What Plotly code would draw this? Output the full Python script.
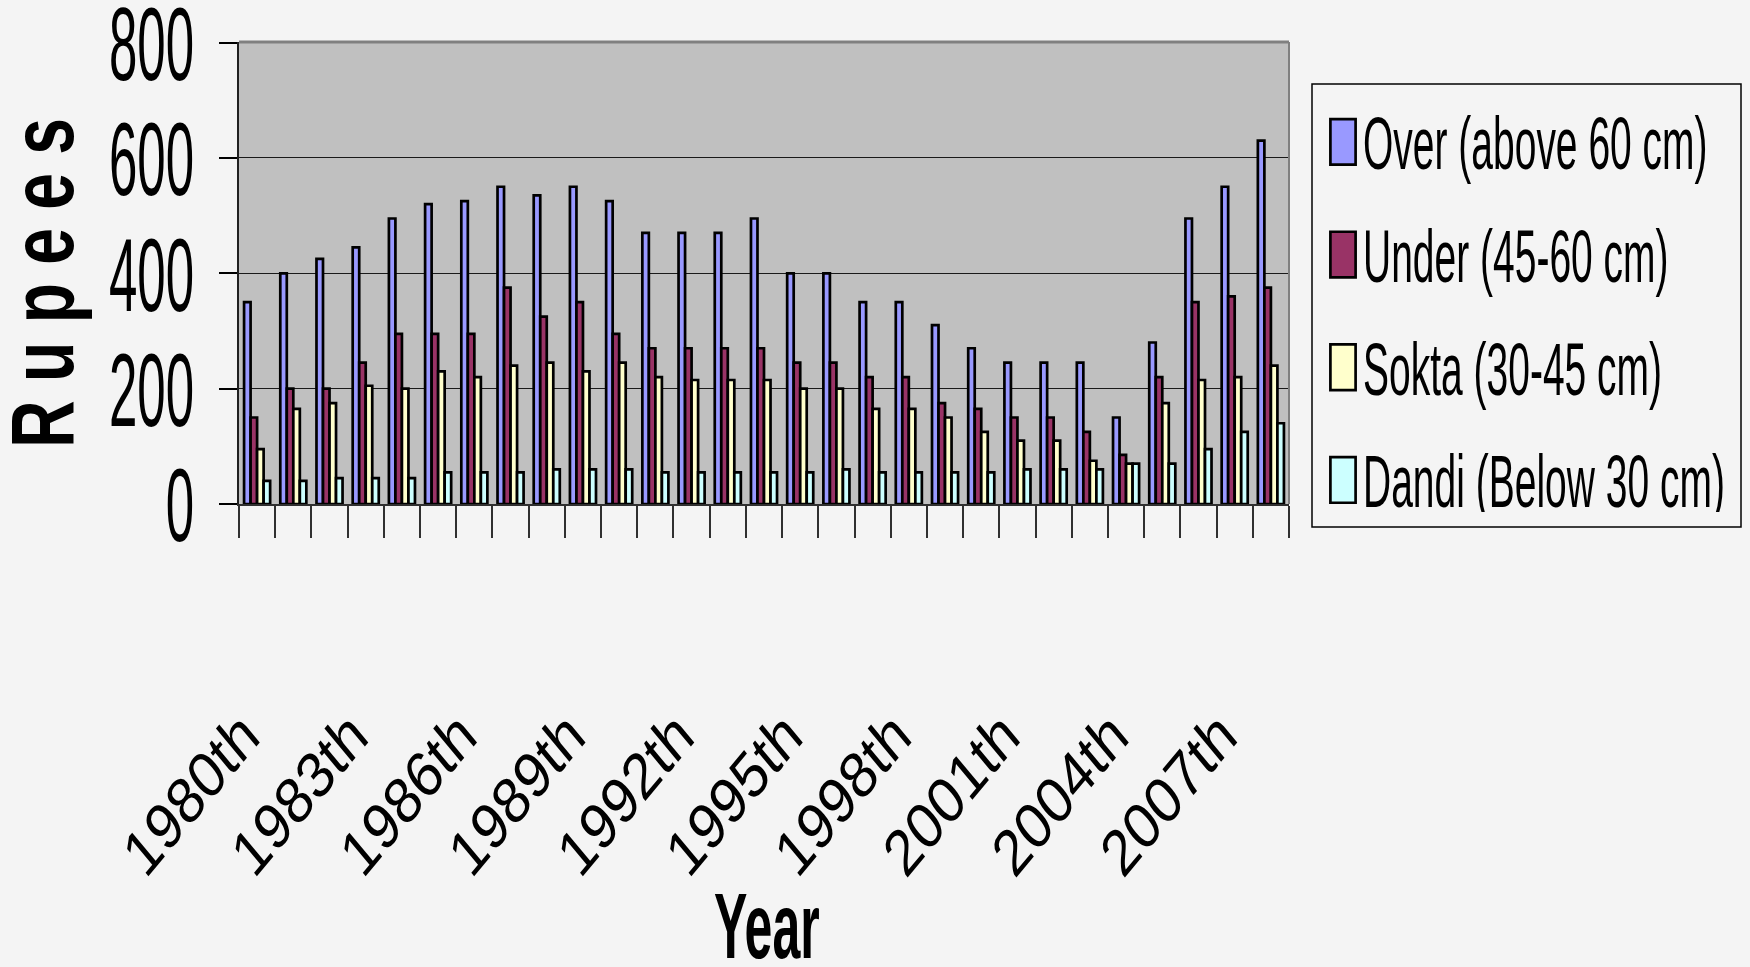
import plotly.graph_objects as go

# ---- data ----
years = ["1980", "1981", "1982", "1983", "1984", "1985", "1986", "1987", "1988", "1989",
         "1990", "1991", "1992", "1993", "1994", "1995", "1996", "1997", "1998", "1999",
         "2000", "2001", "2002", "2003", "2004", "2005", "2006", "2007", "2008"]
over_vals = [350, 400, 425, 445, 495, 520, 525, 550, 535, 550,
             525, 470, 470, 470, 495, 400, 400, 350, 350, 310,
             270, 245, 245, 245, 150, 280, 495, 550, 630]
under_vals = [150, 200, 200, 245, 295, 295, 295, 375, 325, 350,
              295, 270, 270, 270, 270, 245, 245, 220, 220, 175,
              165, 150, 150, 125, 85, 220, 350, 360, 375]
sokta_vals = [95, 165, 175, 205, 200, 230, 220, 240, 245, 230,
              245, 220, 215, 215, 215, 200, 200, 165, 165, 150,
              125, 110, 110, 75, 70, 175, 215, 220, 240]
dandi_vals = [40, 40, 45, 45, 45, 55, 55, 55, 60, 60,
              60, 55, 55, 55, 55, 55, 60, 55, 55, 55,
              55, 60, 60, 60, 70, 70, 95, 125, 140]
series_names = ["Over (above 60 cm)", "Under (45-60 cm)", "Sokta (30-45 cm)", "Dandi (Below 30 cm)"]
labelled_years = ["1980", "1983", "1986", "1989", "1992", "1995", "1998", "2001", "2004", "2007"]
label_suffix = "th"
y_ticks = [0, 200, 400, 600, 800]

# ---- styling ----
colors = ["#9999FF", "#993366", "#FFFFCC", "#CCFFFF"]
FONT = "Liberation Sans, Arial, Helvetica, sans-serif"
W, H = 1750, 967
L, R, T, B = 239, 1289, 42, 504  # plot area in px


def px_x(x):
    return (x - L) / (R - L)


def px_y(y):
    return (B - y) / (B - T)


fig = go.Figure()
for name, vals, col in zip(series_names, [over_vals, under_vals, sokta_vals, dandi_vals], colors):
    fig.add_trace(go.Bar(
        x=years, y=vals, name=name, legendgroup=name,
        marker=dict(color=col, line=dict(color="#000000", width=2.7)),
    ))

ticktext = [y + label_suffix if y in labelled_years else "" for y in years]

fig.update_layout(
    width=W, height=H,
    margin=dict(l=L, r=W - R, t=T, b=H - B, autoexpand=False),
    paper_bgcolor="#F4F4F4", plot_bgcolor="#C0C0C0",
    barmode="group", bargap=0.28, bargroupgap=0,
    font=dict(family=FONT, color="#000000"),
    showlegend=True,
    legend=dict(
        x=px_x(1323), y=px_y(110), xanchor="left", yanchor="top",
        bgcolor="rgba(0,0,0,0)", borderwidth=0,
        font=dict(family=FONT, size=39, color="#000000"),
        tracegroupgap=59, traceorder="grouped",
    ),
    xaxis=dict(
        type="category", tickmode="array", tickvals=years, ticktext=ticktext,
        tickson="boundaries", ticks="outside", ticklen=32, tickwidth=1.5, tickcolor="#303030",
        tickangle=-45, tickfont=dict(family=FONT, size=54, color="#000000"),
        ticklabelstandoff=186, ticklabelshift=-14,
        showline=True, linecolor="#303030", linewidth=1.5, mirror=False,
        showgrid=False, zeroline=False, fixedrange=True,
    ),
    yaxis=dict(
        range=[0, 801], tickmode="array", tickvals=y_ticks,
        ticks="outside", ticklen=18, tickwidth=1.5, tickcolor="#000000",
        tickfont=dict(family=FONT, size=51, color="#000000"),
        ticklabelstandoff=15,
        showgrid=True, gridcolor="#1a1a1a", gridwidth=1.2,
        showline=True, linecolor="#202020", linewidth=1.5,
        zeroline=False, fixedrange=True,
    ),
    shapes=[
        dict(type="line", xref="paper", yref="paper", x0=0, x1=1, y0=1, y1=1,
             line=dict(color="#808080", width=3)),
        dict(type="line", xref="paper", yref="paper", x0=1, x1=1, y0=0, y1=1,
             line=dict(color="#808080", width=2)),
        dict(type="rect", xref="paper", yref="paper",
             x0=px_x(1312), x1=px_x(1741), y0=px_y(527), y1=px_y(84),
             line=dict(color="#000000", width=1.5), fillcolor="rgba(0,0,0,0)"),
    ],
    annotations=[
        dict(text="<b>R u p e e s</b>", textangle=-90, showarrow=False,
             xref="paper", yref="paper", x=px_x(42), y=px_y(283),
             xanchor="center", yanchor="middle",
             font=dict(family=FONT, size=66, color="#000000")),
        dict(text="<b>Year</b>", showarrow=False,
             xref="paper", yref="paper", x=px_x(767), y=px_y(926),
             xanchor="center", yanchor="middle",
             font=dict(family=FONT, size=50, color="#000000")),
    ],
)

# The reference uses a tall, condensed typeface; emulate it by stretching the
# real text elements vertically with CSS.
css = """
html, body { margin: 0; padding: 0; background: #F4F4F4; }
g.ytick { transform-box: fill-box; transform-origin: 100% 50%; transform: translateY(1px) scaleY(2.05); }
g.xtick { transform-box: fill-box; transform-origin: 50% 50%; transform: scaleY(1.2); }
text.legendtext { transform-box: fill-box; transform-origin: 0% 50%; transform: scaleY(1.9); }
g.annotation[data-index="0"] text.annotation-text { transform-box: fill-box; transform-origin: 50% 50%; transform: scaleY(1.36); }
g.annotation[data-index="1"] text.annotation-text { transform-box: fill-box; transform-origin: 50% 50%; transform: scaleY(1.85); }
"""
post = """
var st = document.createElement('style');
st.textContent = %r;
document.head.appendChild(st);
var gd = document.getElementById('{plot_id}');
gd.querySelectorAll('.legendpoints path').forEach(function(p) {
  var t = p.getAttribute('transform') || '';
  p.setAttribute('transform', t + ' scale(2.1,3.8)');
  p.style.vectorEffect = 'non-scaling-stroke';
});
""" % css

fig.write_html("out.html", post_script=post, config={"displayModeBar": False})
